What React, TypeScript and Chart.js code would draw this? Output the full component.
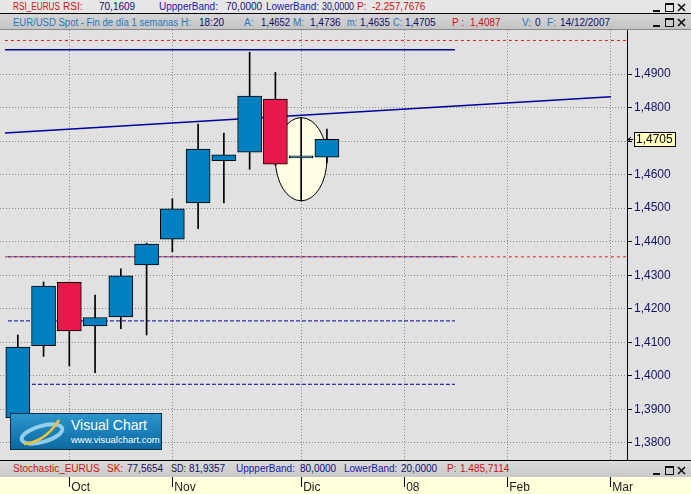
import React, { useEffect, useRef } from 'react';
import { Chart, registerables } from 'chart.js';

Chart.register(...registerables);

// ---- data (weekly EUR/USD candles) ----
const weeks = [0, 1, 2, 3, 4, 5, 6, 7, 8, 9, 10, 11, 12];
const opens = [1.3875, 1.4090, 1.4279, 1.4149, 1.4176, 1.4331, 1.4408, 1.4516, 1.4642, 1.4667, 1.4825, 1.4650, 1.4652];
const highs = [1.4122, 1.4280, 1.4280, 1.4241, 1.4319, 1.4396, 1.4528, 1.4751, 1.4724, 1.4965, 1.4905, 1.4770, 1.4736];
const lows = [1.3855, 1.4058, 1.4030, 1.4010, 1.4141, 1.4122, 1.4370, 1.4439, 1.4516, 1.4616, 1.4628, 1.4522, 1.4635];
const closes = [1.4086, 1.4268, 1.4134, 1.4174, 1.4298, 1.4393, 1.4498, 1.4676, 1.4659, 1.4834, 1.4631, 1.4656, 1.4705];

const yTickValues = [1.38, 1.39, 1.40, 1.41, 1.42, 1.43, 1.44, 1.45, 1.46, 1.47, 1.48, 1.49];
const xTickValues = [2, 6, 11, 15, 19, 23];
const xTickLabels = ['Oct', 'Nov', 'Dic', '08', 'Feb', 'Mar'];

// drawn levels / trend line (price, week index)
const redTopLevel = 1.5000;
const redMidLevel = 1.4355;
const blueSolidLevel = 1.4972;
const blueDashLevels = [1.4355, 1.4164, 1.3975];
const blueDashStarts = [-0.5, -0.38, 0.55];
const levelStart = -0.5;
const blueEnd = 16.97;
const redEnd = 23.65;
const trendX = [-0.5, 23.03];
const trendY = [1.4724, 1.4832];
const ellipseWeek = 11;

const X_MIN = -0.691;
const X_MAX = 23.65;
const Y_MIN = 1.37493;
const Y_MAX = 1.50312;

const FONT = '"Liberation Sans", Arial, sans-serif';
const BLUE = '#0080c0';
const RED = '#e8184a';

const fmt = (v: number) => v.toFixed(4).replace('.', ',');

const seg = (x0: number, x1: number, y: number) => [{ x: x0, y }, { x: x1, y }];

const ellipsePlugin = {
  id: 'ellipseMark',
  beforeDatasetsDraw(chart: any) {
    const { ctx, scales } = chart;
    const xs = scales.x, ys = scales.y;
    const cx = xs.getPixelForValue(ellipseWeek);
    const rx = (xs.getPixelForValue(ellipseWeek + 1) - xs.getPixelForValue(ellipseWeek - 1)) / 2;
    const top = ys.getPixelForValue(highs[ellipseWeek]);
    const bottom = ys.getPixelForValue(lows[ellipseWeek]);
    ctx.save();
    ctx.beginPath();
    ctx.ellipse(cx, (top + bottom) / 2, rx, (bottom - top) / 2, 0, 0, Math.PI * 2);
    ctx.fillStyle = '#ffffe4';
    ctx.fill();
    ctx.strokeStyle = '#000';
    ctx.lineWidth = 1;
    ctx.stroke();
    ctx.restore();
  },
};

const lastPricePlugin = {
  id: 'lastPrice',
  afterDraw(chart: any) {
    const { ctx } = chart;
    const ys = chart.scales.y;
    const last = closes[closes.length - 1];
    const y = Math.round(ys.getPixelForValue(last)) + 0.5;
    const x0 = ys.left + 7;
    ctx.save();
    ctx.fillStyle = '#ffffc0';
    ctx.fillRect(x0, y - 7, 42, 14);
    ctx.strokeStyle = '#000';
    ctx.lineWidth = 1;
    ctx.strokeRect(x0 + 0.5, y - 7, 41, 14);
    ctx.beginPath();
    ctx.moveTo(ys.left + 1, y);
    ctx.lineTo(ys.left + 6, y);
    ctx.moveTo(ys.left + 1, y);
    ctx.lineTo(ys.left + 4, y - 2.5);
    ctx.moveTo(ys.left + 1, y);
    ctx.lineTo(ys.left + 4, y + 2.5);
    ctx.stroke();
    ctx.fillStyle = '#000';
    ctx.font = '12px ' + FONT;
    ctx.textBaseline = 'middle';
    ctx.textAlign = 'left';
    ctx.fillText(fmt(last), x0 + 2, y + 0.5);
    ctx.restore();
  },
};

let measureCtx: CanvasRenderingContext2D | null = null;
function textWidth(text: string, size: number) {
  if (!measureCtx) measureCtx = document.createElement('canvas').getContext('2d');
  if (!measureCtx) return 0;
  measureCtx.font = size + 'px ' + FONT;
  return measureCtx.measureText(text).width;
}

type SegT = { x: number; t: string; c: string };

function Row({ segs, size }: { segs: SegT[]; size: number }) {
  return (
    <>
      {segs.map((s, i) => {
        const next = segs[i + 1];
        const w = textWidth(s.t, size);
        const target = next ? next.x - s.x - 3 : 1000;
        const k = w > target && w > 0 ? target / w : 1;
        return (
          <span
            key={i}
            style={{
              position: 'absolute',
              left: s.x,
              top: 0,
              color: s.c,
              whiteSpace: 'pre',
              display: 'inline-block',
              transform: k < 1 ? `scaleX(${k.toFixed(3)})` : undefined,
              transformOrigin: 'left center',
            }}
          >
            {s.t}
          </span>
        );
      })}
    </>
  );
}

function Controls({ top }: { top: number }) {
  return (
    <svg style={{ position: 'absolute', left: 652, top }} width={37} height={11}>
      <rect x={1} y={8} width={7} height={2} fill="#111" />
      <rect x={13.5} y={1.5} width={8} height={8} fill="none" stroke="#111" />
      <rect x={13} y={1} width={9} height={2} fill="#111" />
      <path d="M26 2 L33 9 M33 2 L26 9" stroke="#111" strokeWidth={1.6} />
    </svg>
  );
}

const C_RED = '#d01010';
const C_NAVY = '#10106a';
const C_BLUE = '#1a1aa8';
const C_STEEL = '#2878c0';

const row1: SegT[] = [
  { x: 13, t: 'RSI_EURUS', c: C_RED },
  { x: 63, t: 'RSI:', c: C_RED },
  { x: 99, t: '70,1609', c: C_NAVY },
  { x: 159, t: 'UppperBand:', c: C_BLUE },
  { x: 226, t: '70,0000', c: C_NAVY },
  { x: 266, t: 'LowerBand:', c: C_BLUE },
  { x: 322, t: '30,0000', c: C_NAVY },
  { x: 357, t: 'P:', c: C_RED },
  { x: 372, t: '-2.257,7676', c: C_RED },
];
const row2: SegT[] = [
  { x: 13, t: 'EUR/USD Spot - Fin de día 1 semanas', c: C_STEEL },
  { x: 181, t: 'H:', c: C_STEEL },
  { x: 199, t: '18:20', c: C_NAVY },
  { x: 244, t: 'A:', c: C_STEEL },
  { x: 261, t: '1,4652', c: C_NAVY },
  { x: 293, t: 'M:', c: C_STEEL },
  { x: 310, t: '1,4736', c: C_NAVY },
  { x: 347, t: 'm:', c: C_STEEL },
  { x: 360, t: '1,4635', c: C_NAVY },
  { x: 393, t: 'C:', c: C_STEEL },
  { x: 405, t: '1,4705', c: C_NAVY },
  { x: 452, t: 'P :', c: C_RED },
  { x: 470, t: '1,4087', c: C_RED },
  { x: 522, t: 'V:', c: C_STEEL },
  { x: 535, t: '0', c: C_NAVY },
  { x: 547, t: 'F:', c: C_STEEL },
  { x: 560, t: '14/12/2007', c: C_NAVY },
];
const row3: SegT[] = [
  { x: 13, t: 'Stochastic_EURUS', c: C_RED },
  { x: 107, t: 'SK:', c: C_RED },
  { x: 127, t: '77,5654', c: C_NAVY },
  { x: 171, t: 'SD:', c: '#202020' },
  { x: 189, t: '81,9357', c: C_NAVY },
  { x: 236, t: 'UppperBand:', c: C_BLUE },
  { x: 300, t: '80,0000', c: C_NAVY },
  { x: 344, t: 'LowerBand:', c: C_BLUE },
  { x: 401, t: '20,0000', c: C_NAVY },
  { x: 447, t: 'P:', c: C_RED },
  { x: 460, t: '1.485,7114', c: C_RED },
];

export default function App() {
  const canvasRef = useRef<HTMLCanvasElement | null>(null);

  useEffect(() => {
    const canvas = canvasRef.current;
    if (!canvas) return;
    const lineDs = (data: any[], color: string, width: number, dash: number[], offset = 0) => ({
      type: 'line',
      data,
      borderColor: color,
      borderWidth: width,
      borderDash: dash,
      borderDashOffset: offset,
      pointRadius: 0,
      fill: false,
      order: 3,
    });
    const chart = new Chart(canvas, {
      type: 'line',
      data: {
        datasets: [
          lineDs(seg(levelStart, redEnd, redTopLevel), '#e02020', 1, [3, 3]),
          lineDs(seg(levelStart, redEnd, redMidLevel), '#e02020', 1, [3, 3]),
          lineDs(seg(blueDashStarts[0], blueEnd, blueDashLevels[0]), '#00009c', 1, [3, 3], 3),
          lineDs(seg(blueDashStarts[1], blueEnd, blueDashLevels[1]), '#00009c', 1, [4, 2]),
          lineDs(seg(blueDashStarts[2], blueEnd, blueDashLevels[2]), '#00009c', 1, [4, 2]),
          lineDs(seg(levelStart, blueEnd, blueSolidLevel), '#00009c', 1.5, []),
          lineDs([{ x: trendX[0], y: trendY[0] }, { x: trendX[1], y: trendY[1] }], '#00009c', 1.5, []),
          {
            type: 'bar',
            data: weeks.map((i) => ({ x: i, y: [lows[i], highs[i]] })),
            backgroundColor: '#000',
            borderWidth: 0,
            barThickness: 1,
            grouped: false,
            order: 2,
          },
          {
            type: 'bar',
            data: weeks.map((i) => ({ x: i, y: [opens[i], closes[i]] })),
            backgroundColor: weeks.map((i) => (closes[i] >= opens[i] ? BLUE : RED)),
            borderColor: '#000',
            borderWidth: 1,
            borderSkipped: false,
            barThickness: 24,
            grouped: false,
            order: 1,
          },
        ] as any,
      },
      options: {
        responsive: false,
        animation: false,
        devicePixelRatio: 1,
        events: [],
        layout: { padding: { top: 30, left: 0, right: 0, bottom: 0 } },
        plugins: { legend: { display: false }, tooltip: { enabled: false } },
        scales: {
          x: {
            type: 'linear',
            position: 'bottom',
            min: X_MIN,
            max: X_MAX,
            offset: false,
            afterFit: (s: any) => { s.height = 34; },
            afterBuildTicks: (s: any) => { s.ticks = xTickValues.map((v) => ({ value: v })); },
            ticks: {
              callback: (v: any) => {
                const k = xTickValues.indexOf(Number(v));
                return k >= 0 ? xTickLabels[k] : '';
              },
              align: 'start',
              padding: -7,
              labelOffset: 2,
              autoSkip: false,
              maxRotation: 0,
              minRotation: 0,
              color: '#202020',
              font: { family: FONT, size: 12 },
            },
            grid: { offset: false, color: '#8c8c8c', lineWidth: 1, tickLength: 27, tickColor: '#000', tickWidth: 1 },
            border: { display: false, dash: [1, 2] },
          },
          y: {
            type: 'linear',
            position: 'right',
            min: Y_MIN,
            max: Y_MAX,
            afterFit: (s: any) => { s.width = 64; },
            afterBuildTicks: (s: any) => { s.ticks = yTickValues.map((v) => ({ value: v })); },
            ticks: {
              callback: (v: any) => fmt(Number(v)),
              padding: 2,
              color: '#141464',
              font: { family: FONT, size: 12 },
            },
            grid: { color: '#8c8c8c', lineWidth: 1, tickLength: 5, tickColor: '#000', tickWidth: 1 },
            border: { display: true, color: '#000', width: 1, dash: [1, 2] },
          },
        },
      } as any,
      plugins: [ellipsePlugin, lastPricePlugin],
    });
    return () => chart.destroy();
  }, []);

  const textBase = { fontFamily: FONT, fontSize: 10, lineHeight: '13px' } as const;

  return (
    <div style={{ position: 'fixed', left: 0, top: 0, width: 691, height: 494, overflow: 'hidden', background: '#e1e1e1', fontFamily: FONT }}>
      {/* x-axis strip background */}
      <div style={{ position: 'absolute', left: 0, top: 477, width: 691, height: 17, background: '#ffffdc' }} />
      <canvas ref={canvasRef} width={691} height={494} style={{ position: 'absolute', left: 0, top: 0, width: 691, height: 494 }} />

      {/* header row 1 */}
      <div style={{ position: 'absolute', left: 0, top: 0, width: 691, height: 13, background: '#e6e6e6', borderBottom: '1px solid #000', ...textBase }}>
        <Row segs={row1} size={10} />
        <Controls top={2} />
      </div>
      {/* header row 2 */}
      <div style={{ position: 'absolute', left: 0, top: 14, width: 691, height: 15, background: 'linear-gradient(180deg,#d6d6d6,#c4c4c4)', borderBottom: '1px solid #8a8a8a', ...textBase }}>
        <div style={{ position: 'absolute', left: 0, top: 2, width: 691, height: 13 }}>
          <Row segs={row2} size={10} />
        </div>
        <Controls top={3} />
      </div>

      {/* stochastic strip */}
      <div style={{ position: 'absolute', left: 0, top: 460, width: 691, height: 16, background: 'linear-gradient(180deg,#dadada,#c8c8c8)', borderTop: '1px solid #000', ...textBase }}>
        <div style={{ position: 'absolute', left: 0, top: 1, width: 691, height: 13 }}>
          <Row segs={row3} size={10} />
        </div>
        <Controls top={4} />
      </div>

      {/* logo */}
      <div style={{ position: 'absolute', left: 10, top: 413, width: 150, height: 35, background: 'linear-gradient(180deg,#2c95cb 0%,#1b7fb8 50%,#0f69a0 100%)', border: '1px solid #0b2f48' }}>
        <svg style={{ position: 'absolute', left: 4, top: 1 }} width={56} height={33}>
          <ellipse cx={27} cy={19} rx={21} ry={8} transform="rotate(-16 27 19)" fill="none" stroke="#a6dcf4" strokeWidth={4} opacity={0.85} />
          <path d="M9 29 Q30 27 44 5" stroke="#f0c23a" strokeWidth={2.5} fill="none" />
        </svg>
        <div style={{ position: 'absolute', left: 60, top: 3, color: '#fff', fontSize: 14, lineHeight: '16px', whiteSpace: 'nowrap' }}>Visual Chart</div>
        <div style={{ position: 'absolute', left: 60, top: 20, color: '#fff', fontSize: 9.5, lineHeight: '11px', whiteSpace: 'nowrap' }}>www.visualchart.com</div>
      </div>
    </div>
  );
}
